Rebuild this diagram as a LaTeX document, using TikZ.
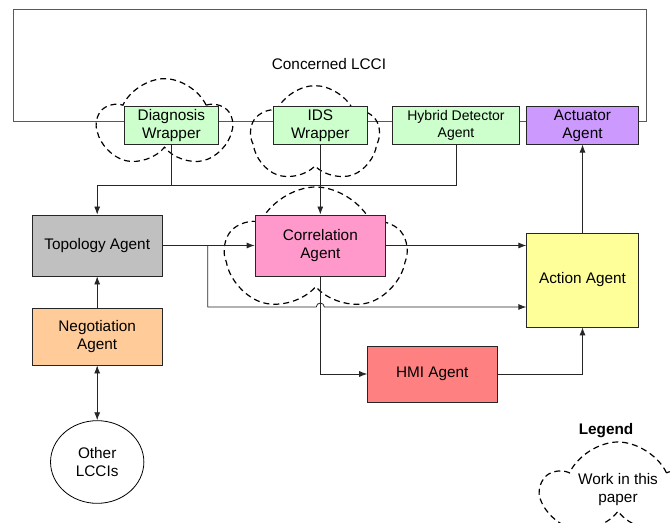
\documentclass[tikz,border=0pt]{standalone}
\usepackage{fontspec}
\setmainfont{Liberation Sans}
\usepackage{tikz}
\usetikzlibrary{calc}
\usetikzlibrary{arrows.meta}
\usetikzlibrary{shapes}
\usetikzlibrary{shapes.geometric}
\usetikzlibrary{shapes.symbols}
\definecolor{wrapgreen}{HTML}{CCFFCC}
\definecolor{actpurple}{HTML}{CC99FF}
\definecolor{topogray}{HTML}{C0C0C0}
\definecolor{corrpink}{HTML}{FF99CC}
\definecolor{actyellow}{HTML}{FFFF99}
\definecolor{negoorange}{HTML}{FFCC99}
\definecolor{hmired}{HTML}{FF8080}
\tikzset{>={Latex[length=6pt,width=4.5pt]}}
\tikzstyle{agent} = [rectangle, draw=black!85, line width=0.6pt, align=center, inner sep=1pt]
\tikzstyle{work} = [cloud, cloud puffs=5, cloud puff arc=130, cloud ignores aspect, draw=black, dash pattern=on 4.5pt off 3pt, line width=0.9pt, align=center]
\tikzstyle{wire} = [draw=black!85, line width=0.6pt]

\begin{document}
\begin{tikzpicture}[x=0.75pt, y=-0.75pt, font=\fontsize{11.5pt}{13.5pt}\selectfont]
\useasboundingbox (0,0) rectangle (670,523);
\draw [wire, draw=black!65] (13.7,121) rectangle (646,9.3);
\node (LCCI) at (329,64) {Concerned LCCI};
\node [work, minimum width=99pt, minimum height=68pt] (DiagCloud) at (164.5,124) {};
\node [work, minimum width=96pt, minimum height=74pt] (IDSCloud) at (315,135) {};
\node [work, minimum width=134pt, minimum height=96pt] (CorrCloud) at (315.7,251) {};
\node [work, minimum width=112pt, minimum height=72pt] (LegCloud) at (618,490) {Work in this\\paper};
\node (Legend) at (606,431) {\bfseries Legend};
\node [agent, fill=wrapgreen, minimum width=70pt, minimum height=28pt] (Diag) at (171.4,125.5) {Diagnosis\\Wrapper};
\node [agent, fill=wrapgreen, minimum width=70pt, minimum height=28pt] (IDS) at (320.3,125.5) {IDS\\Wrapper};
\node [agent, fill=wrapgreen, minimum width=95.5pt, minimum height=28pt, font=\fontsize{10.5pt}{12.5pt}\selectfont] (Hybrid) at (456,125.5) {Hybrid Detector\\Agent};
\node [agent, fill=actpurple, minimum width=84.3pt, minimum height=28pt] (Actuator) at (582.5,125.5) {Actuator\\Agent};
\node [agent, fill=topogray, minimum width=97.8pt, minimum height=45.8pt] (Topology) at (97.2,245.5) {Topology Agent};
\node [agent, fill=corrpink, minimum width=97.9pt, minimum height=45.8pt] (Corr) at (320.3,245.5) {Correlation\\Agent};
\node [agent, fill=actyellow, minimum width=83.6pt, minimum height=70.5pt] (Action) at (582.5,280) {Action Agent};
\node [agent, fill=negoorange, minimum width=97.8pt, minimum height=42.8pt] (Nego) at (97.2,336.5) {Negotiation\\Agent};
\node [agent, fill=hmired, minimum width=97pt, minimum height=42pt] (HMI) at (432.3,374) {HMI Agent};
\node [ellipse, draw=black, line width=0.6pt, align=center, inner sep=0pt, minimum width=70pt, minimum height=62pt] (Other) at (97.2,462) {Other\\LCCIs};
\coordinate (Bus) at (97.2,185);
\coordinate (Split) at ($(Topology.east)+(45,0)$);
\coordinate (Hop) at ($(Corr.center |- Action.west)+(0,27)$);
\draw [wire] (Diag.south) -- (Diag.south |- Bus);
\draw [wire, ->] (Hybrid.south) |- (Bus) -- (Topology.north);
\draw [wire, ->] (IDS.south) -- (Corr.north);
\draw [wire, ->] (Topology.east) -- (Corr.west);
\draw [wire, ->] (Corr.east) -- (Corr.east -| Action.west);
\draw [wire, ->] (Split) |- ($(Hop)+(-4,0)$) arc [start angle=180, end angle=0, radius=3pt] -- ($(Action.west)+(0,27)$);
\draw [wire, ->] (Corr.south) |- (HMI.west);
\draw [wire, ->] (HMI.east) -| (Action.south);
\draw [wire, ->] (Action.north) -- (Actuator.south);
\draw [wire, ->] (Nego.north) -- (Topology.south);
\draw [wire, <->] (Nego.south) -- (Other.north);
\end{tikzpicture}
\end{document}
